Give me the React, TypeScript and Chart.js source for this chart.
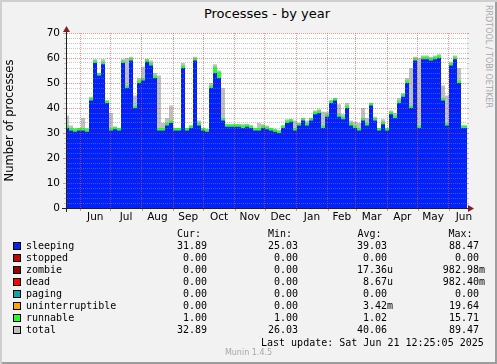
import React, { useEffect, useRef } from "react";
import { Chart, registerables } from "chart.js";

Chart.register(...registerables);

// ---------- data ----------
const AXIS_DAYS = 396; // days shown on the x axis
const SAMPLE_STEP_DAYS = 3.96; // one sample every ~4 days

const monthNames = ["Jun", "Jul", "Aug", "Sep", "Oct", "Nov", "Dec", "Jan", "Feb", "Mar", "Apr", "May", "Jun"];
// day offsets of the first day of each month from the axis start
const monthStartDays = [13, 43, 74, 105, 135, 166, 196, 227, 258, 286, 317, 347, 378];
const monthEndDay = 408;

const sleeping = [
  32, 31, 30.5, 31, 31, 30.5, 43, 58, 53, 57.5,
  42, 31, 31.5, 31, 58, 48, 59, 40, 50, 51,
  58.5, 57, 52, 31, 31, 33, 34, 31, 31, 56,
  31, 32, 59, 33, 31, 30.5, 48, 54, 52, 35,
  32.5, 32.5, 32.5, 32.5, 32, 32.5, 32, 31, 31, 32,
  31.5, 31, 30.5, 30, 32, 34, 34.5, 31, 33, 35,
  33, 35, 37.5, 38, 32, 36.5, 42, 43, 36.5, 35.5,
  40, 33, 32, 31, 35, 33, 41, 35, 31, 33.5,
  31, 37.5, 36, 42, 44.5, 50, 40, 59, 32, 59.5,
  59.5, 59, 59.5, 60, 43, 33, 57, 59.5, 50, 32,
  32,
];
const runnable = [
  1, 1, 1, 1, 1, 1, 1, 1, 1, 1,
  1, 1, 1, 1, 1, 1, 1, 1, 1, 1,
  1, 1, 1, 1, 1, 1, 1, 1, 1, 1,
  1, 1, 1, 1, 1, 1, 1, 2.5, 2.5, 1,
  1, 1, 1, 1, 1, 1, 1, 1, 1, 1,
  1, 1, 1, 1, 1, 1, 1, 1, 1, 1,
  1, 1, 1, 1, 1, 1, 1, 1, 1, 1,
  1, 1, 1, 1, 1, 1, 1, 1, 1, 1,
  1, 1, 1, 1, 1, 1, 1, 1, 1, 1,
  1, 1, 1, 1, 1, 1, 1, 1, 1, 1,
  1,
];
const total = [
  37, 33, 32, 32, 36, 32, 44.5, 59.5, 54, 59.5,
  43, 38, 32.5, 32, 59.5, 60, 60.5, 45, 52, 56.5,
  59.5, 59, 54, 53, 34, 36, 41, 32, 32, 58,
  32, 33, 60.5, 35, 32, 31.5, 50, 57.5, 55, 48,
  33.5, 33.5, 33.5, 33.5, 33.5, 33.5, 33, 32, 34, 33.5,
  33, 32, 31.5, 31, 33, 35.5, 35.5, 35, 34, 36,
  35, 36, 39, 39.5, 38.5, 38.5, 43, 44, 41.5, 37.5,
  42, 35, 34.5, 34, 40, 36, 42, 36.5, 32, 35.5,
  32, 39, 38, 44, 46, 52, 56, 60.5, 60, 61,
  61, 60.5, 61, 61.5, 49, 45, 58.5, 61, 56, 33,
  33,
];
// series that stay at zero over the whole year
const stopped = sleeping.map(() => 0);
const zombie = sleeping.map(() => 0);
const dead = sleeping.map(() => 0);
const paging = sleeping.map(() => 0);
const uninterruptible = sleeping.map(() => 0);

const legendRows = [
  { name: "sleeping", color: "#0022ff", cur: "31.89", min: "25.03", avg: "39.03 ", max: "88.47 " },
  { name: "stopped", color: "#cc0000", cur: "0.00", min: "0.00", avg: "0.00 ", max: "0.00 " },
  { name: "zombie", color: "#990000", cur: "0.00", min: "0.00", avg: "17.36u", max: "982.98m" },
  { name: "dead", color: "#ff0000", cur: "0.00", min: "0.00", avg: "8.67u", max: "982.40m" },
  { name: "paging", color: "#00aaaa", cur: "0.00", min: "0.00", avg: "0.00 ", max: "0.00 " },
  { name: "uninterruptible", color: "#ffa500", cur: "0.00", min: "0.00", avg: "3.42m", max: "19.64 " },
  { name: "runnable", color: "#22ff22", cur: "1.00", min: "1.00", avg: "1.02 ", max: "15.71 " },
  { name: "total", color: "#c0c0c0", cur: "32.89", min: "26.03", avg: "40.06 ", max: "89.47 " },
];

// ---------- styles ----------
const GRID = "rgba(143,143,143,0.5)";
const MGRID = "rgba(222,79,79,0.6)";
const AXIS = "#1f1f1f";
const ARROW = "#801f1f";
const BACK = "#f2f2f2";
const SANS = "'DejaVu Sans', sans-serif";
const MONO = "'DejaVu Sans Mono', monospace";

const toPoints = (vals: number[]) => vals.map((y, i) => ({ x: i * SAMPLE_STEP_DAYS, y }));

const canvasBg = {
  id: "canvasBg",
  beforeDraw(chart: any) {
    const { ctx, chartArea: a } = chart;
    ctx.save();
    ctx.fillStyle = "#ffffff";
    ctx.fillRect(a.left, a.top, a.right - a.left, a.bottom - a.top);
    ctx.restore();
  },
};

const rrdAxes = {
  id: "rrdAxes",
  afterDraw(chart: any) {
    const { ctx, chartArea: a, scales } = chart;
    const ys = scales.y;
    const xs = scales.x;
    ctx.save();
    ctx.lineWidth = 1;
    for (let v = 0; v <= 70; v += 2) {
      const py = Math.round(ys.getPixelForValue(v)) + 0.5;
      const major = v % 10 === 0;
      ctx.strokeStyle = major ? MGRID : GRID;
      ctx.beginPath();
      ctx.moveTo(a.left - (major ? 4 : 3), py);
      ctx.lineTo(a.left, py);
      ctx.moveTo(a.right, py);
      ctx.lineTo(a.right + 2, py);
      ctx.stroke();
    }
    for (const d of monthStartDays) {
      const px = Math.round(xs.getPixelForValue(d)) + 0.5;
      ctx.strokeStyle = MGRID;
      ctx.beginPath();
      ctx.moveTo(px, a.bottom);
      ctx.lineTo(px, a.bottom + 3);
      ctx.stroke();
    }
    const ay = a.bottom + 0.5;
    const ax = a.left - 0.5;
    ctx.strokeStyle = AXIS;
    ctx.beginPath();
    ctx.moveTo(a.left - 5, ay);
    ctx.lineTo(a.right + 2, ay);
    ctx.moveTo(ax, a.bottom + 4);
    ctx.lineTo(ax, a.top - 2);
    ctx.stroke();
    ctx.fillStyle = ARROW;
    ctx.beginPath();
    ctx.moveTo(a.right + 1, ay - 3.5);
    ctx.lineTo(a.right + 7, ay);
    ctx.lineTo(a.right + 1, ay + 3.5);
    ctx.closePath();
    ctx.fill();
    ctx.beginPath();
    ctx.moveTo(ax - 3.5, a.top - 1);
    ctx.lineTo(ax, a.top - 7);
    ctx.lineTo(ax + 3.5, a.top - 1);
    ctx.closePath();
    ctx.fill();
    ctx.restore();
  },
};

function areaSet(label: string, vals: number[], color: string, fill: any, stack: string, order: number) {
  return {
    label,
    data: toPoints(vals),
    backgroundColor: color,
    borderColor: "rgba(0,0,0,0)",
    borderWidth: 0,
    pointRadius: 0,
    stepped: "middle" as const,
    fill,
    stack,
    order,
  };
}

function ProcessesChart() {
  const ref = useRef<HTMLCanvasElement | null>(null);
  useEffect(() => {
    if (!ref.current) return;
    const mids = monthStartDays.map((d, i) => {
      const next = i + 1 < monthStartDays.length ? monthStartDays[i + 1] : monthEndDay;
      return (d + next) / 2;
    });
    const chart = new Chart(ref.current, {
      type: "line",
      data: {
        datasets: [
          areaSet("sleeping", sleeping, "#0022ff", "origin", "a", 0),
          areaSet("stopped", stopped, "#cc0000", "-1", "a", 0),
          areaSet("zombie", zombie, "#990000", "-1", "a", 0),
          areaSet("dead", dead, "#ff0000", "-1", "a", 0),
          areaSet("paging", paging, "#00aaaa", "-1", "a", 0),
          areaSet("uninterruptible", uninterruptible, "#ffa500", "-1", "a", 0),
          areaSet("runnable", runnable, "#22ff22", "-1", "a", 0),
          areaSet("total", total, "#c0c0c0", "origin", "t", 1),
        ] as any,
      },
      options: {
        animation: false,
        responsive: false,
        devicePixelRatio: 1,
        layout: { padding: { left: 0, right: 30, top: 33, bottom: 0 } },
        plugins: {
          legend: { display: false },
          tooltip: { enabled: false },
          title: { display: false },
        },
        scales: {
          x: {
            type: "linear",
            min: 0,
            max: AXIS_DAYS,
            afterBuildTicks: (s: any) => {
              const t: any[] = [];
              monthStartDays.forEach((d) => t.push({ value: d, kind: "b", name: "" }));
              mids.forEach((d, i) => {
                if (d < AXIS_DAYS) t.push({ value: d, kind: "m", name: monthNames[i] });
              });
              t.sort((p, q) => p.value - q.value);
              s.ticks = t;
            },
            afterFit: (s: any) => {
              s.height = 24;
            },
            ticks: {
              autoSkip: false,
              maxRotation: 0,
              padding: 3,
              color: "#000",
              font: { family: SANS, size: 10.5 },
              callback: (_v: any, i: number, ticks: any[]) => (ticks[i] && ticks[i].kind === "m" ? ticks[i].name : ""),
            },
            grid: {
              z: 1,
              drawTicks: false,
              lineWidth: 1,
              color: (c: any) => (c.tick && c.tick.kind === "b" ? MGRID : "rgba(0,0,0,0)"),
            },
            border: { display: false, dash: [1, 1] },
          } as any,
          y: {
            type: "linear",
            stacked: true,
            min: 0,
            max: 70,
            afterFit: (s: any) => {
              s.width = 67;
            },
            ticks: {
              stepSize: 2,
              autoSkip: false,
              padding: 7,
              color: "#000",
              font: { family: SANS, size: 10.5 },
              callback: (v: any) => (Number(v) % 10 === 0 ? String(v) : ""),
            },
            grid: {
              z: 1,
              drawTicks: false,
              lineWidth: 1,
              color: (c: any) => (c.tick && c.tick.value % 10 === 0 ? MGRID : GRID),
            },
            border: { display: false, dash: [1, 1] },
            title: {
              display: true,
              text: "Number of processes",
              color: "#000",
              font: { family: SANS, size: 11.5 },
              padding: { top: 3, bottom: 0 },
            },
          } as any,
        },
      },
      plugins: [canvasBg, rrdAxes],
    });
    return () => chart.destroy();
  }, []);
  return (
    <canvas
      ref={ref}
      width={497}
      height={232}
      style={{ position: "absolute", left: 0, top: 0, width: 497, height: 232 }}
    />
  );
}

export default function App() {
  const rowTop = (k: number) => 239.5 + 12 * k;
  const cell = (right: number, text: string, top: number, key: string) => (
    <div
      key={key}
      style={{
        position: "absolute",
        left: right - 80,
        width: 80,
        top,
        textAlign: "right",
        whiteSpace: "pre",
      }}
    >
      {text}
    </div>
  );
  return (
    <div
      style={{
        position: "fixed",
        left: 0,
        top: 0,
        width: 497,
        height: 364,
        background: BACK,
        boxShadow: "inset 2px 2px 0 #cfcfcf, inset -2px -2px 0 #9e9e9e",
        overflow: "hidden",
      }}
    >
      <div
        style={{
          position: "absolute",
          left: 67,
          width: 400,
          top: 6,
          textAlign: "center",
          font: `13px ${SANS}`,
          lineHeight: "15px",
          color: "#000",
        }}
      >
        Processes - by year
      </div>
      <div
        style={{
          position: "absolute",
          left: 483,
          top: 5,
          width: 10,
          writingMode: "vertical-rl",
          font: `8px ${SANS}`,
          lineHeight: "10px",
          color: "#a8a8a8",
          whiteSpace: "nowrap",
        }}
      >
        RRDTOOL / TOBI OETIKER
      </div>
      <ProcessesChart />
      <div style={{ position: "absolute", left: 0, top: 0, width: 497, height: 364, font: `10px ${MONO}`, lineHeight: "12px", color: "#000" }}>
        <div style={{ position: "absolute", left: 177, top: 227.5 }}>Cur:</div>
        <div style={{ position: "absolute", left: 268, top: 227.5 }}>Min:</div>
        <div style={{ position: "absolute", left: 357.5, top: 227.5 }}>Avg:</div>
        <div style={{ position: "absolute", left: 448.5, top: 227.5 }}>Max:</div>
        {legendRows.map((r, k) => (
          <React.Fragment key={r.name}>
            <div
              style={{
                position: "absolute",
                left: 13,
                top: 242 + 12 * k,
                width: 8,
                height: 8,
                boxSizing: "border-box",
                border: "1px solid #000",
                background: r.color,
              }}
            />
            <div style={{ position: "absolute", left: 26, top: rowTop(k) }}>{r.name}</div>
            {cell(207, r.cur, rowTop(k), r.name + "c")}
            {cell(298, r.min, rowTop(k), r.name + "n")}
            {cell(393, r.avg, rowTop(k), r.name + "a")}
            {cell(485, r.max, rowTop(k), r.name + "x")}
          </React.Fragment>
        ))}
        <div style={{ position: "absolute", left: 261, top: 336.5, whiteSpace: "pre" }}>
          Last update: Sat Jun 21 12:25:05 2025
        </div>
      </div>
      <div
        style={{
          position: "absolute",
          left: 0,
          width: 497,
          top: 348,
          textAlign: "center",
          font: `8px ${SANS}`,
          lineHeight: "10px",
          color: "#a8a8a8",
        }}
      >
        Munin 1.4.5
      </div>
    </div>
  );
}
